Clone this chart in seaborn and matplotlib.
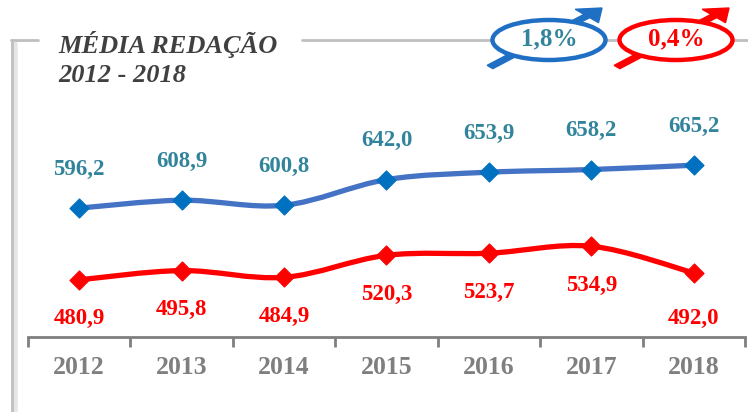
import numpy as np
import pandas as pd
import matplotlib
matplotlib.use("Agg")
import matplotlib.pyplot as plt
import seaborn as sns
from matplotlib.path import Path
from matplotlib.patches import PathPatch, Ellipse, FancyArrow
from matplotlib.lines import Line2D

# Data
years = ["2012", "2013", "2014", "2015", "2016", "2017", "2018"]
media_top = [596.2, 608.9, 600.8, 642.0, 653.9, 658.2, 665.2]
media_bottom = [480.9, 495.8, 484.9, 520.3, 523.7, 534.9, 492.0]
growth_labels = ["1,8%", "0,4%"]

BLUE_LINE = "#4472C4"
BLUE_MARK = "#0070C0"
BLUE_TEXT = "#31849B"
RED = "#FF0000"
GRAY = "#7F7F7F"


def smooth_path(xs, ys):
    # Catmull-Rom style bezier, like Excel's smoothed line
    pts = np.column_stack([xs, ys])
    verts = [pts[0]]
    codes = [Path.MOVETO]
    n = len(pts)
    for i in range(n - 1):
        p0 = pts[max(i - 1, 0)]
        p1 = pts[i]
        p2 = pts[i + 1]
        p3 = pts[min(i + 2, n - 1)]
        c1 = p1 + (p2 - p0) / 6.0
        c2 = p2 - (p3 - p1) / 6.0
        verts += [c1, c2, p2]
        codes += [Path.CURVE4] * 3
    return Path(verts, codes)


sns.set_theme(style="white")
plt.rcParams["font.family"] = ["Liberation Serif", "DejaVu Serif"]

W, H = 748, 412
fig = plt.figure(figsize=(W / 100, H / 100), dpi=100)
fig.patch.set_facecolor("white")

ax_l, ax_r, ax_b, ax_t = 28, 745, 337, 100
ax = fig.add_axes([ax_l / W, 1 - ax_b / H, (ax_r - ax_l) / W, (ax_b - ax_t) / H])
ax.set_facecolor("none")

df = pd.DataFrame({"x": np.arange(len(years)), "top": media_top, "bottom": media_bottom})

ax.add_patch(PathPatch(smooth_path(df["x"], df["top"]), fill=False, lw=3.8,
                       edgecolor=BLUE_LINE, capstyle="round", zorder=2))
ax.add_patch(PathPatch(smooth_path(df["x"], df["bottom"]), fill=False, lw=3.8,
                       edgecolor=RED, capstyle="round", zorder=2))
sns.scatterplot(data=df, x="x", y="top", marker="D", s=95, color=BLUE_MARK,
                edgecolor=BLUE_MARK, ax=ax, zorder=3)
sns.scatterplot(data=df, x="x", y="bottom", marker="D", s=95, color=RED,
                edgecolor=RED, ax=ax, zorder=3)

for i, v in enumerate(media_top):
    ax.annotate(f"{v:.1f}".replace(".", ","), (i, v), xytext=(0, 28),
                textcoords="offset points", ha="center", va="center",
                fontsize=16.5, fontweight="bold", color=BLUE_TEXT)
for i, v in enumerate(media_bottom):
    off = -28 if i < 6 else -33
    ax.annotate(f"{v:.1f}".replace(".", ","), (i, v), xytext=(0, off),
                textcoords="offset points", ha="center", va="center",
                fontsize=16.5, fontweight="bold", color=RED)

ax.set_xlim(-0.5, len(years) - 0.5)
ax.set_ylim(389, 770)
ax.set_xticks(np.arange(len(years)))
ax.set_xticklabels(years, fontsize=18.5, fontweight="bold", color=GRAY)
ax.set_xticks(np.arange(len(years) + 1) - 0.5, minor=True)
ax.tick_params(axis="x", which="major", length=0, pad=14)
ax.tick_params(axis="x", which="minor", length=7, width=2, color=GRAY,
               direction="out", bottom=True)
ax.set_yticks([])
ax.set_xlabel("")
ax.set_ylabel("")
for s in ["top", "left", "right"]:
    ax.spines[s].set_visible(False)
ax.spines["bottom"].set_color(GRAY)
ax.spines["bottom"].set_linewidth(2)

# Frame
def px(x, y):
    return x / W, 1 - y / H

frame = "#BFBFBF"
fig.add_artist(Line2D([15 / W, 15 / W], [1 - 44 / H, 0], color="#E6E6E6", lw=4))
fig.add_artist(Line2D([12 / W, 12 / W], [1 - 40 / H, 0], color=frame, lw=2))
fig.add_artist(Line2D([11 / W, 38 / W], [1 - 40 / H] * 2, color=frame, lw=2))
fig.add_artist(Line2D([302 / W, 1], [1 - 40 / H] * 2, color=frame, lw=2))

fig.text(58 / W, 1 - 44 / H, "MÉDIA REDAÇÃO", fontsize=19, fontweight="bold",
         fontstyle="italic", color="#404040", va="center")
fig.text(58 / W, 1 - 75 / H, "2012 - 2018", fontsize=19, fontweight="bold",
         fontstyle="italic", color="#404040", va="center")

# Growth ovals
for (cx, col, tcol, lab) in [(549, "#1F6FC5", BLUE_TEXT, growth_labels[0]),
                             (676, RED, RED, growth_labels[1])]:
    x0, y0 = px(cx - 59, 67)
    x1, y1 = px(cx + 53, 8)
    fig.add_artist(FancyArrow(x0, y0, x1 - x0, y1 - y0, width=0.011,
                              head_width=0.045, head_length=0.028,
                              length_includes_head=True, color=col,
                              transform=fig.transFigure, zorder=1))
    ex, ey = px(cx, 40)
    fig.add_artist(Ellipse((ex, ey), 113 / W, 40 / H, facecolor="white",
                           edgecolor=col, lw=3.2, transform=fig.transFigure, zorder=2))
    fig.text(ex, ey + 0.003, lab, fontsize=18, fontweight="bold", color=tcol,
             ha="center", va="center", zorder=3)

fig.savefig("out.png", dpi=100)
